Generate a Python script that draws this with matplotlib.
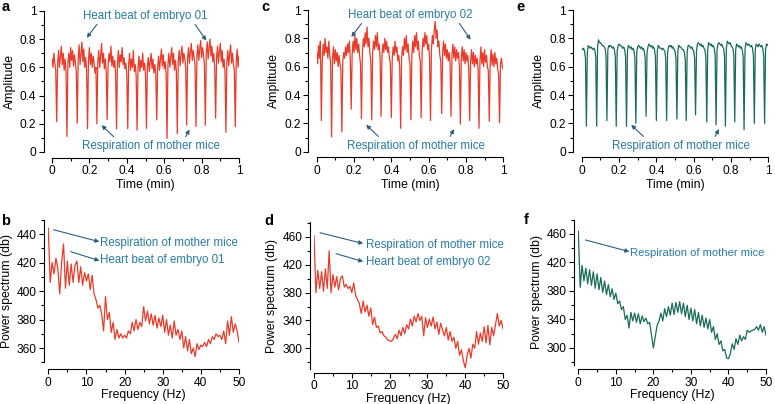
import numpy as np
import matplotlib.pyplot as plt
from matplotlib.ticker import MultipleLocator, FixedLocator, FuncFormatter

plt.rcParams['font.family'] = ['Liberation Sans', 'DejaVu Sans']
plt.rcParams['font.size'] = 8.6

RED = '#e83b2a'
GREEN = '#1b6b58'
TXT = '#2b7aa1'
ARR = '#2f5f7f'

# amplitude traces (time 0..1 min, evenly sampled)
amp_a = [0.66, 0.60, 0.70, 0.63, 0.58, 0.215,
         0.62, 0.72, 0.60, 0.68, 0.75, 0.62, 0.70, 0.58, 0.66, 0.57, 0.11,
         0.63, 0.70, 0.60, 0.74, 0.65, 0.72, 0.61, 0.69, 0.63, 0.57, 0.205,
         0.66, 0.76, 0.62, 0.70, 0.78, 0.64, 0.73, 0.60, 0.67, 0.58, 0.165,
         0.65, 0.74, 0.62, 0.70, 0.60, 0.68, 0.63, 0.56, 0.60, 0.20,
         0.64, 0.72, 0.60, 0.68, 0.77, 0.63, 0.70, 0.59, 0.66, 0.57, 0.23,
         0.62, 0.70, 0.64, 0.75, 0.61, 0.68, 0.60, 0.65, 0.56, 0.165,
         0.63, 0.72, 0.60, 0.69, 0.64, 0.74, 0.62, 0.67, 0.59, 0.63, 0.55, 0.165,
         0.62, 0.70, 0.58, 0.66, 0.60, 0.72, 0.57, 0.62, 0.54, 0.155,
         0.60, 0.68, 0.57, 0.65, 0.60, 0.70, 0.58, 0.63, 0.55, 0.168,
         0.61, 0.67, 0.57, 0.64, 0.70, 0.59, 0.66, 0.56, 0.62, 0.55, 0.227,
         0.60, 0.68, 0.58, 0.66, 0.73, 0.61, 0.69, 0.59, 0.64, 0.56, 0.097,
         0.62, 0.70, 0.60, 0.67, 0.74, 0.62, 0.70, 0.58, 0.65, 0.57, 0.13,
         0.64, 0.72, 0.61, 0.69, 0.75, 0.63, 0.70, 0.66, 0.60, 0.19,
         0.66, 0.74, 0.63, 0.71, 0.77, 0.65, 0.72, 0.67, 0.61, 0.18,
         0.68, 0.76, 0.65, 0.73, 0.79, 0.67, 0.74, 0.69, 0.62, 0.19,
         0.70, 0.78, 0.66, 0.74, 0.80, 0.68, 0.75, 0.64, 0.70, 0.60, 0.24,
         0.67, 0.75, 0.63, 0.71, 0.77, 0.64, 0.72, 0.60, 0.66, 0.57, 0.14,
         0.64, 0.72, 0.61, 0.69, 0.76, 0.63, 0.70, 0.62, 0.58, 0.18,
         0.64, 0.73, 0.60, 0.68]

amp_c = [0.70, 0.62, 0.75, 0.66, 0.78, 0.22,
         0.64, 0.76, 0.68, 0.80, 0.70, 0.74, 0.66, 0.78, 0.68, 0.62, 0.105,
         0.66, 0.74, 0.62, 0.72, 0.64, 0.70, 0.60, 0.68, 0.62, 0.58, 0.14,
         0.64, 0.70, 0.66, 0.74, 0.68, 0.76, 0.70, 0.78, 0.66, 0.30,
         0.68, 0.78, 0.70, 0.82, 0.72, 0.80, 0.70, 0.76, 0.68, 0.62, 0.235,
         0.70, 0.80, 0.74, 0.84, 0.76, 0.88, 0.74, 0.80, 0.70, 0.64, 0.225,
         0.70, 0.78, 0.72, 0.82, 0.74, 0.84, 0.72, 0.76, 0.66, 0.25,
         0.68, 0.76, 0.70, 0.80, 0.72, 0.78, 0.70, 0.74, 0.66, 0.62, 0.24,
         0.66, 0.74, 0.68, 0.78, 0.70, 0.74, 0.64, 0.68, 0.60, 0.165,
         0.66, 0.74, 0.68, 0.80, 0.72, 0.82, 0.70, 0.76, 0.66, 0.62, 0.225,
         0.68, 0.78, 0.70, 0.82, 0.74, 0.84, 0.72, 0.78, 0.68, 0.64, 0.24,
         0.70, 0.80, 0.74, 0.84, 0.76, 0.82, 0.72, 0.76, 0.66, 0.22,
         0.72, 0.82, 0.76, 0.86, 0.92, 0.80, 0.86, 0.74, 0.78, 0.68, 0.64, 0.27,
         0.70, 0.78, 0.68, 0.76, 0.66, 0.72, 0.64, 0.70, 0.62, 0.25,
         0.68, 0.76, 0.66, 0.74, 0.64, 0.72, 0.66, 0.70, 0.60, 0.195,
         0.66, 0.74, 0.64, 0.72, 0.62, 0.70, 0.64, 0.68, 0.58, 0.22,
         0.64, 0.72, 0.62, 0.70, 0.60, 0.68, 0.62, 0.66, 0.58, 0.165,
         0.64, 0.74, 0.62, 0.70, 0.60, 0.72, 0.63, 0.68, 0.60, 0.57, 0.215,
         0.63, 0.72, 0.61, 0.69, 0.60, 0.70, 0.62, 0.66, 0.58, 0.55, 0.205,
         0.62, 0.66, 0.60, 0.58]

amp_e = [0.73, 0.72, 0.73, 0.71, 0.66, 0.18,
         0.70, 0.75, 0.74, 0.73, 0.74, 0.73, 0.72, 0.73, 0.72, 0.67, 0.18,
         0.74, 0.79, 0.77, 0.77, 0.76, 0.75, 0.75, 0.74, 0.73, 0.68, 0.22,
         0.72, 0.75, 0.74, 0.75, 0.74, 0.73, 0.74, 0.72, 0.67, 0.18,
         0.71, 0.75, 0.76, 0.75, 0.75, 0.74, 0.73, 0.74, 0.72, 0.67, 0.18,
         0.71, 0.75, 0.74, 0.73, 0.74, 0.72, 0.73, 0.71, 0.66, 0.20,
         0.70, 0.74, 0.75, 0.74, 0.73, 0.74, 0.72, 0.73, 0.71, 0.66, 0.25,
         0.70, 0.74, 0.76, 0.75, 0.74, 0.75, 0.73, 0.74, 0.72, 0.67, 0.22,
         0.71, 0.75, 0.74, 0.73, 0.73, 0.72, 0.73, 0.72, 0.71, 0.66, 0.22,
         0.70, 0.74, 0.75, 0.74, 0.75, 0.73, 0.74, 0.72, 0.71, 0.66, 0.23,
         0.71, 0.75, 0.74, 0.74, 0.73, 0.72, 0.72, 0.70, 0.65, 0.22,
         0.70, 0.75, 0.75, 0.74, 0.73, 0.74, 0.72, 0.71, 0.66, 0.26,
         0.71, 0.76, 0.77, 0.76, 0.75, 0.76, 0.74, 0.75, 0.73, 0.72, 0.67, 0.21,
         0.72, 0.77, 0.76, 0.75, 0.76, 0.74, 0.75, 0.73, 0.68, 0.19,
         0.72, 0.76, 0.77, 0.76, 0.75, 0.76, 0.74, 0.73, 0.68, 0.18,
         0.73, 0.78, 0.77, 0.76, 0.77, 0.75, 0.74, 0.73, 0.68, 0.21,
         0.72, 0.76, 0.75, 0.74, 0.75, 0.73, 0.74, 0.72, 0.67, 0.155,
         0.72, 0.77, 0.76, 0.75, 0.76, 0.75, 0.74, 0.75, 0.73, 0.68, 0.20,
         0.72, 0.76, 0.75, 0.74, 0.76, 0.75, 0.74, 0.75, 0.73, 0.68, 0.20,
         0.72, 0.76, 0.75, 0.76]

# power spectra (0..50 Hz, every 0.5 Hz)
power_b = [444, 406, 420, 412, 423, 416, 398, 420, 433, 402,
           421, 404, 419, 406, 418, 421, 406, 417, 404, 413,
           407, 412, 401, 411, 398, 394, 388, 390, 384, 372,
           396, 380, 385, 371, 378, 366, 373, 367, 370, 367,
           369, 367, 372, 370, 378, 372, 380, 373, 378, 375,
           389, 379, 386, 377, 384, 376, 383, 374, 381, 375,
           383, 371, 380, 369, 376, 367, 379, 369, 373, 366,
           372, 360, 368, 358, 366, 356, 360, 354, 363, 359,
           362, 361, 364, 361, 366, 363, 368, 366, 370, 368,
           369, 366, 372, 363, 379, 369, 382, 371, 377, 372,
           364]

power_d = [462, 380, 412, 386, 410, 382, 414, 386, 440, 380,
           406, 388, 403, 384, 400, 404, 388, 392, 386, 389,
           380, 394, 376, 370, 364, 350, 368, 352, 362, 346,
           358, 334, 345, 330, 332, 322, 324, 318, 316, 312,
           311, 310, 314, 320, 314, 326, 318, 330, 321, 334,
           328, 342, 332, 346, 338, 350, 340, 346, 318, 344,
           330, 342, 332, 345, 328, 338, 320, 336, 326, 318,
           330, 312, 324, 310, 316, 300, 310, 290, 298, 282,
           272, 290, 300, 286, 306, 300, 324, 306, 322, 310,
           331, 308, 333, 305, 330, 318, 334, 350, 332, 340,
           328]

power_f = [464, 385, 416, 394, 412, 390, 410, 388, 407, 384,
           404, 382, 399, 378, 394, 375, 389, 372, 383, 368,
           377, 362, 366, 354, 358, 340, 346, 328, 350, 338,
           349, 336, 348, 334, 345, 337, 342, 334, 336, 318,
           300, 316, 332, 338, 349, 338, 355, 344, 358, 346,
           363, 347, 364, 350, 365, 348, 363, 344, 360, 340,
           356, 338, 354, 334, 350, 331, 346, 329, 342, 327,
           340, 322, 330, 312, 320, 305, 310, 296, 298, 286,
           285, 292, 306, 298, 313, 305, 318, 310, 316, 312,
           325, 322, 324, 325, 326, 330, 325, 333, 322, 330,
           318]

ticks_b = [360, 380, 400, 420, 440]
ticks_df = [300, 340, 380, 420, 460]

time = np.linspace(0, 1, len(amp_a))
freq = np.linspace(0, 50, len(power_b))

fig = plt.figure(figsize=(7.75, 4.04), dpi=100)
fmt = FuncFormatter(lambda v, p: '%g' % round(v, 2))


def style(ax, xmaj, xmin, yticks, ymin, lout, bout):
    ax.spines['top'].set_visible(False)
    ax.spines['right'].set_visible(False)
    ax.spines['left'].set_position(('outward', lout))
    ax.spines['bottom'].set_position(('outward', bout))
    ax.xaxis.set_major_locator(MultipleLocator(xmaj))
    ax.xaxis.set_minor_locator(MultipleLocator(xmin))
    ax.yaxis.set_major_locator(FixedLocator(yticks))
    ax.yaxis.set_minor_locator(MultipleLocator(ymin))
    ax.xaxis.set_major_formatter(fmt)
    ax.yaxis.set_major_formatter(fmt)
    ax.tick_params(which='major', length=3.5, width=0.8, pad=1.8)
    ax.tick_params(which='minor', length=2, width=0.8)
    ax.patch.set_alpha(0)


def arrow(ax, start, end):
    ax.annotate('', xy=end, xytext=start,
                arrowprops=dict(arrowstyle='-|>', color=ARR, lw=0.8,
                                mutation_scale=6, shrinkA=0, shrinkB=0),
                annotation_clip=False)


def top_panel(rect, y, color, heart=None):
    ax = fig.add_axes(rect)
    ax.plot(time, y, color=color, lw=0.9)
    ax.set_xlim(0, 1)
    ax.set_ylim(0, 1)
    style(ax, 0.2, 0.1, [0, 0.2, 0.4, 0.6, 0.8, 1.0], 0.1, 6, 4)
    ax.set_xlabel('Time (min)', labelpad=1.5, fontsize=8.8)
    ax.set_ylabel('Amplitude', labelpad=3, fontsize=8.8)
    if heart:
        ax.text(0.50, 0.965, heart, color=TXT, ha='center', va='center', fontsize=8.3)
        arrow(ax, (0.24, 0.905), (0.186, 0.81))
        arrow(ax, (0.765, 0.905), (0.825, 0.79))
    ax.text(0.53, 0.04, 'Respiration of mother mice', color=TXT,
            ha='center', va='center', fontsize=8.3)
    arrow(ax, (0.33, 0.108), (0.265, 0.19))
    arrow(ax, (0.715, 0.108), (0.735, 0.16))
    return ax


def bottom_panel(rect, p, color, ylim, yticks, ymin, lout, bout):
    ax = fig.add_axes(rect)
    ax.plot(freq, p, color=color, lw=0.9)
    ax.set_xlim(0, 50)
    ax.set_ylim(*ylim)
    style(ax, 10, 5, yticks, ymin, lout, bout)
    ax.set_xlabel('Frequency (Hz)', labelpad=0.5, fontsize=8.8)
    ax.set_ylabel('Power spectrum (db)', labelpad=3, fontsize=8.8)
    return ax


ax_a = top_panel([0.0671, 0.6238, 0.2413, 0.349], amp_a, RED,
                 'Heart beat of embryo 01')
ax_c = top_panel([0.4086, 0.6245, 0.2408, 0.3507], amp_c, RED,
                 'Heart beat of embryo 02')
ax_e = top_panel([0.7506, 0.6245, 0.2408, 0.3507], amp_e, GREEN)

ax_b = bottom_panel([0.0623, 0.1033, 0.2461, 0.3527], power_b, RED,
                    (350, 450), ticks_b, 10, 3, 5)
ax_d = bottom_panel([0.4052, 0.0861, 0.2439, 0.3636], power_d, RED,
                    (270, 481), ticks_df, 20, 3, 2.5)
ax_f = bottom_panel([0.7462, 0.0963, 0.2422, 0.3598], power_f, GREEN,
                    (276, 480), ticks_df, 20, 3, 3)

# spectrum annotations
ax_b.text(13.6, 434, 'Respiration of mother mice', color=TXT, va='center', fontsize=8.3)
arrow(ax_b, (1.4, 443), (13.4, 434.6))
ax_b.text(13.6, 421.8, 'Heart beat of embryo 01', color=TXT, va='center', fontsize=8.3)
arrow(ax_b, (5.9, 427.6), (13.4, 421.3))

ax_d.text(13.8, 449, 'Respiration of mother mice', color=TXT, va='center', fontsize=8.3)
arrow(ax_d, (1.6, 466), (13.0, 450.5))
ax_d.text(13.8, 423.6, 'Heart beat of embryo 02', color=TXT, va='center', fontsize=8.3)
arrow(ax_d, (5.8, 436), (13.0, 424.6))

ax_f.text(13.8, 434, 'Respiration of mother mice', color=TXT, va='center', fontsize=8.1)
arrow(ax_f, (1.9, 451.6), (13.6, 435.2))

# panel letters
for lbl, x, y in [('a', 2, 0), ('c', 261, 0), ('e', 516, 0),
                  ('b', 1, 214), ('d', 264, 214), ('f', 524, 213)]:
    fig.text(x / 775, 1 - y / 404, lbl, fontsize=10.5, fontweight='bold',
             va='top', ha='left')

fig.savefig('out.png', dpi=100)
